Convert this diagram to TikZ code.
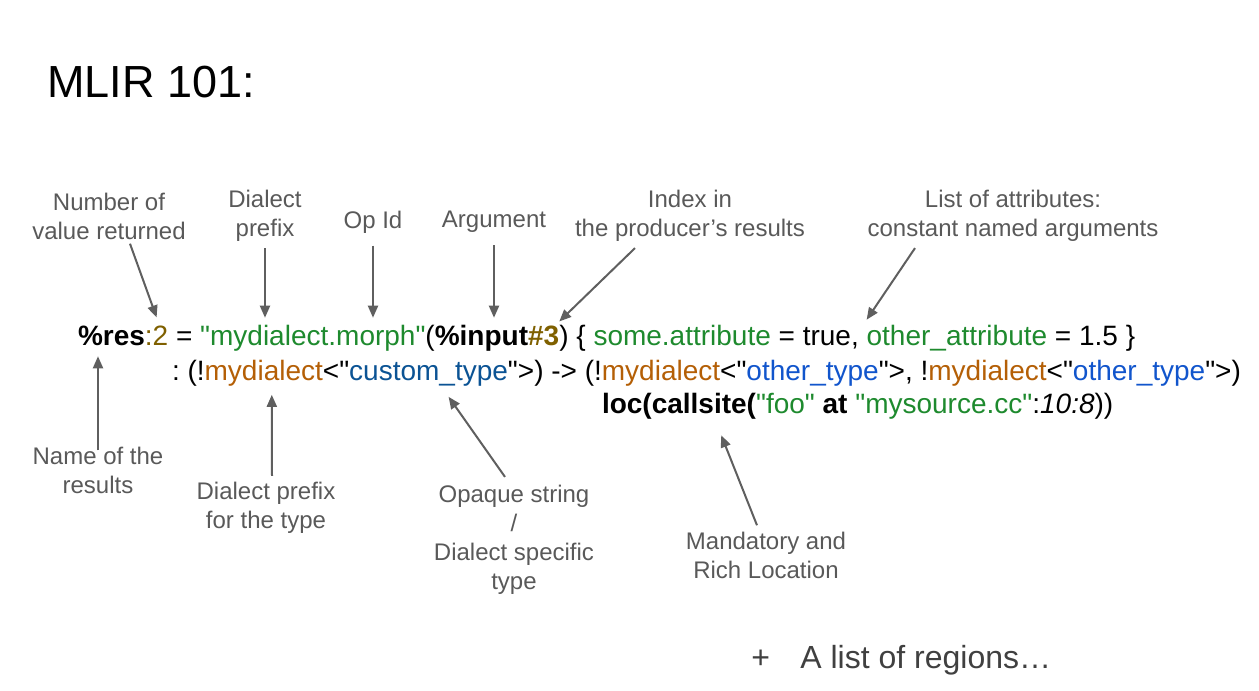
\documentclass[tikz,border=0pt]{standalone}
\usepackage{fontspec}
\setmainfont{Liberation Sans}
\newfontfamily\codefont{Liberation Sans}
\usetikzlibrary{arrows.meta,positioning,calc}
\definecolor{codegreen}{HTML}{1E8A2E}
\definecolor{codebrown}{HTML}{B45F06}
\definecolor{codenum}{HTML}{7F6000}
\definecolor{typedark}{HTML}{0B5394}
\definecolor{typeblue}{HTML}{1155CC}
\definecolor{notegray}{HTML}{595959}
\definecolor{arrowgray}{HTML}{5F5F5F}
\newcommand\spc{\mbox{\ }}
\tikzset{
  code/.style={inner sep=0pt, outer sep=0pt, anchor=base west,
    font=\codefont\fontsize{14}{17}\selectfont},
  note/.style={text=notegray, align=center, inner sep=1pt,
    font=\fontsize{12}{14.5}\selectfont},
  arrow/.style={-{Triangle[length=6pt,width=5pt]}, line width=1pt, color=arrowgray},
}

\begin{document}
\begin{tikzpicture}[x=0.5pt, y=-0.5pt]
  \useasboundingbox (0,0) rectangle (1259,691);

  \node[anchor=base west, inner sep=0pt, font=\fontsize{22.5}{27}\selectfont]
    (title) at (47,97) {MLIR 101:};

  % first line: the operation
  \node[code] (res) at (78,345) {\bfseries\%res};
  \node[code] (cnt) at (res.base east) {\color{codenum}:2};
  \node[code] (eq) at (cnt.base east) {\spc=\spc\color{codegreen}"};
  \node[code] (dlct1) at (eq.base east) {\color{codegreen}mydialect};
  \node[code] (opid) at (dlct1.base east) {\color{codegreen}.morph"};
  \node[code] (lpar) at (opid.base east) {(};
  \node[code] (inp) at (lpar.base east) {\bfseries\%input};
  \node[code] (idx) at (inp.base east) {\bfseries\color{codenum}\#3};
  \node[code] (attr1) at (idx.base east) {)\spc\{\spc\color{codegreen}some.attribute};
  \node[code] (tru) at (attr1.base east) {\spc=\spc true,\spc};
  \node[code] (attr2) at (tru.base east) {\color{codegreen}other\_attribute};
  \node[code] (val) at (attr2.base east) {\spc=\spc1.5\spc\}};

  % second line: the types
  \node[code] (ty0) at (172,380) {:\spc(!};
  \node[code] (dlct2) at (ty0.base east) {\color{codebrown}mydialect};
  \node[code] (lt1) at (dlct2.base east) {<"};
  \node[code] (cust) at (lt1.base east) {\color{typedark}custom\_type};
  \node[code] (ty1) at (cust.base east)
    {">)\spc->\spc(!{\color{codebrown}mydialect}<"{\color{typeblue}other\_type}">,\spc!{\color{codebrown}mydialect}<"{\color{typeblue}other\_type}">)};

  % third line: the location
  \node[code] (loc) at (602,413) {\bfseries loc(};
  \node[code] (csite) at (loc.base east) {\bfseries callsite};
  \node[code] (src) at (csite.base east)
    {\textbf{(}{\color{codegreen}"foo"}\textbf{\spc at\spc}{\color{codegreen}"mysource.cc"}:\textit{10:8}))};

  % notes above
  \node[note] (lblNum) at (109,216) {Number of\\value returned};
  \node[note] (lblDlp) at (265,216) {Dialect\\prefix};
  \node[note] (lblOp) at (373,222) {Op Id};
  \node[note] (lblArg) at (494,222) {Argument};
  \node[note] (lblIdx) at (690,216) {Index in\\the producer’s results};
  \node[note] (lblAttr) at (1013,216) {List of attributes:\\constant named arguments};

  % notes below
  \node[note] (lblName) at (98,470) {Name of the\\results};
  \node[note] (lblDlt) at (266,508) {Dialect prefix\\for the type};
  \node[note] (lblOpq) at (514,540) {Opaque string\\/\\Dialect specific\\type};
  \node[note] (lblLoc) at (766,555) {Mandatory and\\Rich Location};

  \node[anchor=base west, inner sep=0pt, text=black!75, font=\fontsize{16}{19}\selectfont]
    (plus) at (751,668) {+};
  \node[anchor=base west, inner sep=0pt, text=black!75, font=\fontsize{16}{19}\selectfont]
    (regions) at (800,668) {A list of regions…};

  \draw[arrow] ([xshift=10.5pt,yshift=-1pt]lblNum.south) -- ([yshift=4pt]cnt.north);
  \draw[arrow, shorten <=2pt, shorten >=3.5pt] (lblDlp.south) -- (lblDlp.south |- dlct1.north);
  \draw[arrow, shorten <=5pt, shorten >=3.5pt] (lblOp.south) -- (lblOp.south |- opid.north);
  \draw[arrow, shorten <=5pt, shorten >=3.5pt] (lblArg.south) -- (lblArg.south |- inp.north);
  \draw[arrow] ([xshift=-27.5pt,yshift=-2pt]lblIdx.south) -- ([yshift=2pt]idx.north east);
  \draw[arrow] ([xshift=-49pt,yshift=-2pt]lblAttr.south) -- ([yshift=2.5pt]attr2.north west);
  \draw[arrow, shorten <=-3pt, shorten >=5.5pt] (lblName.north) -- (lblName.north |- res.south);
  \draw[arrow] ([xshift=3pt,yshift=2pt]lblDlt.north) -- ([xshift=4pt,yshift=-4.5pt]dlct2.south);
  \draw[arrow] ([xshift=-4.5pt,yshift=3pt]lblOpq.north) -- ([xshift=10pt,yshift=-5.5pt]cust.south);
  \draw[arrow] ([xshift=-4.5pt,yshift=2pt]lblLoc.north) -- ([xshift=11pt,yshift=-11pt]csite.south);

\end{tikzpicture}
\end{document}
